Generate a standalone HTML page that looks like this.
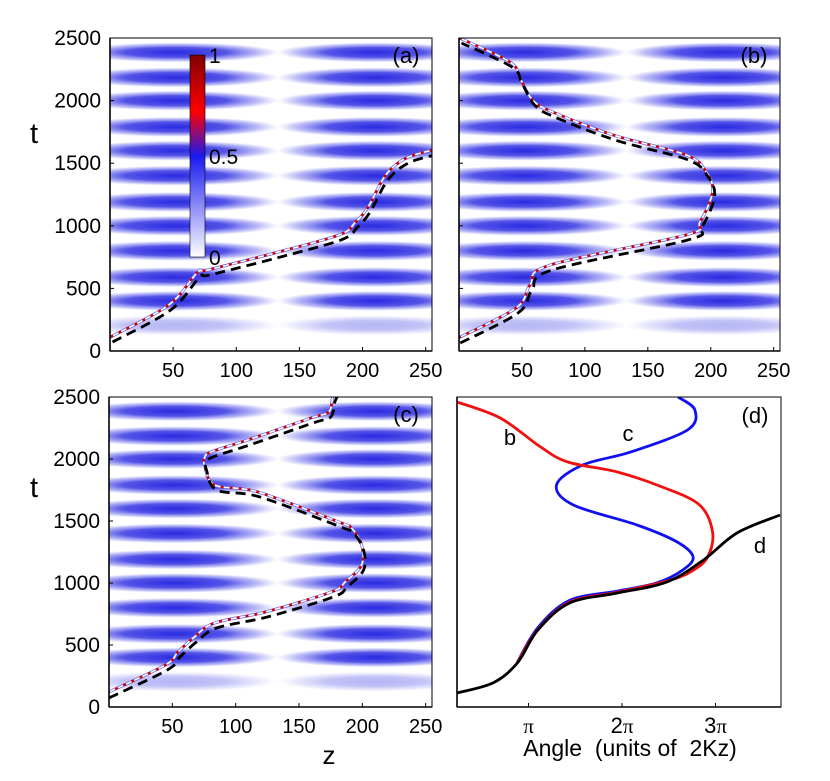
<!DOCTYPE html>
<html><head><meta charset="utf-8">
<style>
html,body{margin:0;padding:0;background:#fff;}
svg{display:block;font-family:"Liberation Sans",sans-serif;}
</style></head>
<body>
<svg id="fig" width="830" height="781" viewBox="0 0 830 781" xmlns="http://www.w3.org/2000/svg">
<defs>
<radialGradient id="lobe" cx="0.5" cy="0.5" r="0.5">
<stop offset="0" stop-color="#1e1ee0" stop-opacity="0.95"/>
<stop offset="0.5" stop-color="#3636e4" stop-opacity="0.85"/>
<stop offset="0.8" stop-color="#6a6aec" stop-opacity="0.45"/>
<stop offset="1" stop-color="#9090f0" stop-opacity="0"/>
</radialGradient>
<linearGradient id="cbar" x1="0" y1="1" x2="0" y2="0">
<stop offset="0" stop-color="#ffffff"/>
<stop offset="0.5" stop-color="#1a1af0"/>
<stop offset="0.72" stop-color="#ff0000"/>
<stop offset="1" stop-color="#800000"/>
</linearGradient>
<clipPath id="clipA"><rect x="110" y="38" width="322" height="313"/></clipPath>
<clipPath id="clipB"><rect x="459" y="38" width="321" height="313"/></clipPath>
<clipPath id="clipC"><rect x="109" y="397" width="323" height="310"/></clipPath>
<clipPath id="clipD"><rect x="457" y="397" width="324" height="310"/></clipPath>
</defs>
</svg>
<script>
// ---- data ----
const bandCenters = [205, 400, 590, 800, 1000, 1190, 1400, 1600, 1790, 2000, 2185, 2385];
const zTicks = [50, 100, 150, 200, 250];
const tTicks = [0, 500, 1000, 1500, 2000, 2500];
const angleTicks = [1, 2, 3];
const angleTickNums = ["", "2", "3"];
const cbarTicks = [0, 0.5, 1];
const trajAz = [2,48,71,79,132,183,196,206,220,236,257];
const trajAt = [72,327,590,607,743,887,990,1110,1366,1500,1565];
const trajBz = [1,47,58,74,182,193,203,198,182,124,76,60,50,42,2];
const trajBt = [64,304,487,647,887,991,1230,1390,1526,1685,1869,1965,2140,2268,2460];
const trajCz = [0,46,56,69,85,125,177,188,201,201,193,183,119,85,77,77,82,111,161,175,178,180];
const trajCt = [73,298,403,524,637,726,887,968,1105,1266,1403,1452,1694,1750,1911,1968,2016,2113,2290,2339,2452,2500];
const angD = [0.235,0.62,0.88,1.10,1.44,1.95,2.48,2.87,3.23,3.69];
const tD = [113,194,355,621,839,919,1008,1185,1403,1548];
const angB = [0.235,0.70,1.13,1.42,1.95,2.43,2.83,2.97,2.91,2.73,2.48,1.95,1.44,1.10,0.88];
const tB = [2460,2330,2097,1976,1895,1774,1629,1403,1202,1089,1015,925,845,625,355];
const angC = [2.60,2.78,2.70,2.09,1.58,1.30,1.48,2.16,2.59,2.76,2.65,2.37,1.95,1.44,1.10,0.88];
const tC = [2500,2395,2234,2056,1952,1790,1629,1468,1331,1210,1105,1000,935,860,640,360];

const NS = "http://www.w3.org/2000/svg";
const svg = document.getElementById('fig');
function mk(tag, attrs, parent){const e=document.createElementNS(NS,tag);for(const k in attrs)e.setAttribute(k,attrs[k]);(parent||svg).appendChild(e);return e;}
function txt(x,y,s,size,anchor,parent){const e=mk('text',{x:x,y:y,'font-size':size,'text-anchor':anchor||'middle',fill:'#000'},parent);e.textContent=s;return e;}
function smooth(pts){
 let d='M'+pts[0][0].toFixed(1)+','+pts[0][1].toFixed(1);
 for(let i=0;i<pts.length-1;i++){
  const p0=pts[Math.max(i-1,0)],p1=pts[i],p2=pts[i+1],p3=pts[Math.min(i+2,pts.length-1)];
  const c1=[p1[0]+(p2[0]-p0[0])/6,p1[1]+(p2[1]-p0[1])/6];
  const c2=[p2[0]-(p3[0]-p1[0])/6,p2[1]-(p3[1]-p1[1])/6];
  d+=' C'+c1[0].toFixed(1)+','+c1[1].toFixed(1)+' '+c2[0].toFixed(1)+','+c2[1].toFixed(1)+' '+p2[0].toFixed(1)+','+p2[1].toFixed(1);
 }
 return d;
}

const panels = {
 a:{x0:110,x1:432,yb:351,yt:38,zmax:255,clip:'clipA'},
 b:{x0:459,x1:780,yb:351,yt:38,zmax:255,clip:'clipB'},
 c:{x0:109,x1:432,yb:707,yt:397,zmax:255,clip:'clipC'}
};
function sx(p,z){return p.x0+(p.x1-p.x0)*z/p.zmax;}
function sy(p,t){return p.yb-(p.yb-p.yt)*t/2500;}

function drawField(key, zs, ts){
 const p=panels[key];
 const g=mk('g',{'clip-path':'url(#'+p.clip+')'});
 
 
 const ry=(p.yb-p.yt)*80/2500;
 bandCenters.forEach((tc,i)=>{
  const op = i===0?0.35:1;
  [[52,82],[210,78]].forEach(([zc,rz])=>{
   const e=mk('ellipse',{cx:sx(p,zc),cy:sy(p,tc),rx:(p.x1-p.x0)*rz/p.zmax,ry:ry,fill:'url(#lobe)',opacity:op},g);
   
   
  });
 });
 const pts=zs.map((z,i)=>[sx(p,z),sy(p,ts[i])]);
 const d=smooth(pts);
 const dOff=smooth(pts.map(q=>[q[0]-2,q[1]-5]));
 let e=mk('path',{d:dOff,fill:'none',stroke:'#6a6ae8',"stroke-width":3,'stroke-linejoin':'round'},g);
 
 
 mk('path',{d:dOff,fill:'none',stroke:'#fff',"stroke-width":1.5},g);
 mk('path',{d:dOff,fill:'none',stroke:'#d00000',"stroke-width":2.5,'stroke-dasharray':'3 6'},g);
 e=mk('path',{d:d,fill:'none',stroke:'#000',"stroke-width":2.8,'stroke-dasharray':'10 6','stroke-linejoin':'round'},g);
 
 
}
function drawAxes(key,label){
 const p=panels[key];
 const r=mk('rect',{x:p.x0,y:p.yt,width:p.x1-p.x0,height:p.yb-p.yt,fill:'none',stroke:'#000','stroke-width':1});
 
 
 mk('line',{x1:p.x0,y1:p.yt,x2:p.x0,y2:p.yb,stroke:'#000','stroke-width':1.6});
 mk('line',{x1:p.x0,y1:p.yb,x2:p.x1,y2:p.yb,stroke:'#000','stroke-width':1.6});
 zTicks.forEach(z=>{
  const x=sx(p,z);
  mk('line',{x1:x,y1:p.yb,x2:x,y2:p.yb-4,stroke:'#000'});
  const t=txt(x,p.yb+26,String(z),20);
  
  
 });
 tTicks.forEach(tv=>{
  const y=sy(p,tv);
  mk('line',{x1:p.x0,y1:y,x2:p.x0+4,y2:y,stroke:'#000'});
  if(key!=='b'){
   const t=txt(p.x0-9,y+7,String(tv),21,'end');
   
   
  }
 });
 const l=txt(p.x1-26,p.yt+25,label,22);
 
 
}
drawField('a',trajAz,trajAt);
drawField('b',trajBz,trajBt);
drawField('c',trajCz,trajCt);
drawAxes('a','(a)');drawAxes('b','(b)');drawAxes('c','(c)');

// colorbar
const cb=mk('rect',{x:190,y:55,width:15,height:202,fill:'url(#cbar)',stroke:'#000','stroke-width':0.6});


cbarTicks.forEach(v=>{
 const y=257-202*v;
 const t=txt(209,y+8,String(v),21,'start');
 
 
});

// axis titles
let t=txt(34,143,'t',29);
t=txt(34,497,'t',29);
t=txt(329,764,'z',26);

// panel d
const D={x0:457,x1:781,yb:707,yt:397};
function ax(a){return 435+93.5*a;}
function ay(tv){return D.yb-(D.yb-D.yt)*tv/2500;}
const gd=mk('g',{'clip-path':'url(#clipD)'});


function curve(as,ts,col,name){
 const d=smooth(as.map((a,i)=>[ax(a),ay(ts[i])]));
 const e=mk('path',{d:d,fill:'none',stroke:col,'stroke-width':2.8,'stroke-linejoin':'round'},gd);
 
 
}
curve(angC,tC,'#1010f0','angle-curve-c');
curve(angB,tB,'#f01010','angle-curve-b');
curve(angD,tD,'#000','angle-curve-d');
const rd=mk('rect',{x:D.x0,y:D.yt,width:D.x1-D.x0,height:D.yb-D.yt,fill:'none',stroke:'#000','stroke-width':1});


mk('line',{x1:D.x0,y1:D.yt,x2:D.x0,y2:D.yb,stroke:'#000','stroke-width':1.6});
mk('line',{x1:D.x0,y1:D.yb,x2:D.x1,y2:D.yb,stroke:'#000','stroke-width':1.6});
angleTicks.forEach((a,i)=>{
 const x=ax(a);
 mk('line',{x1:x,y1:D.yb,x2:x,y2:D.yb-4,stroke:'#000'});
 const l=mk('text',{x:x,y:D.yb+26,'font-size':22,'text-anchor':'middle',fill:'#000'});
 
 
 const n=mk('tspan',{},l);n.textContent=angleTickNums[i];
 const pi=mk('tspan',{'font-family':'"Liberation Serif",serif','font-size':21},l);pi.textContent='\u03c0';
});
t=txt(630,756,'Angle\u00a0\u00a0(units of\u00a0\u00a02Kz)',23);
t=txt(755,423,'(d)',22);
t=txt(510,445,'b',22);
t=txt(628,441,'c',22);
t=txt(760,553,'d',22);
</script>
</body></html>
